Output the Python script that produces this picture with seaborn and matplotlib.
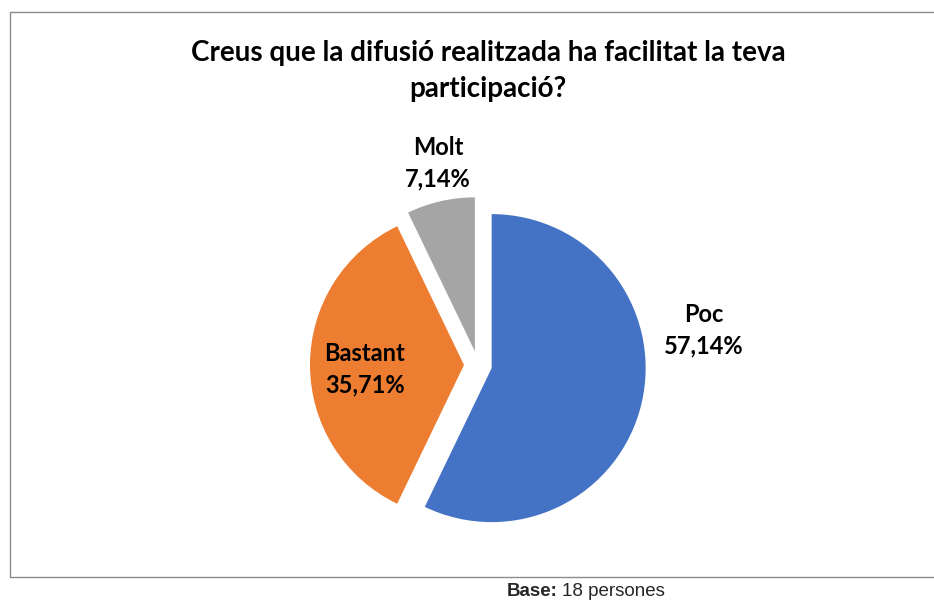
import matplotlib
matplotlib.use("Agg")
import matplotlib.pyplot as plt
import matplotlib.patches as mpatches
import seaborn as sns

# dades
categories = ["Poc", "Bastant", "Molt"]
percentatges = [57.14, 35.71, 7.14]
colors = ["#4472C4", "#ED7D31", "#A5A5A5"]
titol = "Creus que la difusió realitzada ha facilitat la teva\nparticipació?"
base_text = "18 persones"

sns.set_theme(style="white")
plt.rcParams['font.family'] = ['Lato', 'DejaVu Sans']

fig = plt.figure(figsize=(9.34, 6.03), dpi=100)
ax = fig.add_axes([0, 0, 1, 1])
ax.set_xlim(0, 934)
ax.set_ylim(0, 603)
ax.set_aspect("equal")
ax.axis("off")

# marc del grafic
fig.patches.append(mpatches.Rectangle((10 / 934, (603 - 577) / 603), 1.0, (577 - 12) / 603,
                                      transform=fig.transFigure, fill=False,
                                      edgecolor="#8c8c8c", linewidth=1.0))

cx, cy, r = 478, 603 - 365, 154
wedges, _ = ax.pie(percentatges, colors=colors, startangle=90, counterclock=False,
                   explode=[14, 14, 14], center=(cx, cy), radius=r,
                   wedgeprops=dict(linewidth=0))
ax.set_xlim(0, 934)
ax.set_ylim(0, 603)

# etiquetes
label_pos = {"Poc": (704, 330), "Bastant": (365, 369), "Molt": (438, 163)}
for cat, val in zip(categories, percentatges):
    x, y = label_pos[cat]
    txt = f"{cat}\n{val:.2f}%".replace(".", ",")
    ax.text(x, 603 - y, txt, ha="center", va="center", fontsize=17,
            fontweight="bold", color="black", linespacing=1.45)

fig.text(488 / 934, 1 - 71 / 603, titol, ha="center", va="center", fontsize=20,
         fontweight="bold", color="black", linespacing=1.45)

# base
t1 = fig.text(507 / 934, 1 - 591 / 603, "Base:", ha="left", va="center", fontsize=13.5,
              fontweight="bold", family=["Liberation Sans", "DejaVu Sans"])
fig.canvas.draw()
bb = t1.get_window_extent()
fig.text((bb.x1 + 4) / 934, 1 - 591 / 603, base_text, ha="left", va="center", fontsize=13.5,
         family=["Liberation Sans", "DejaVu Sans"])

plt.savefig("out.png", dpi=100)
